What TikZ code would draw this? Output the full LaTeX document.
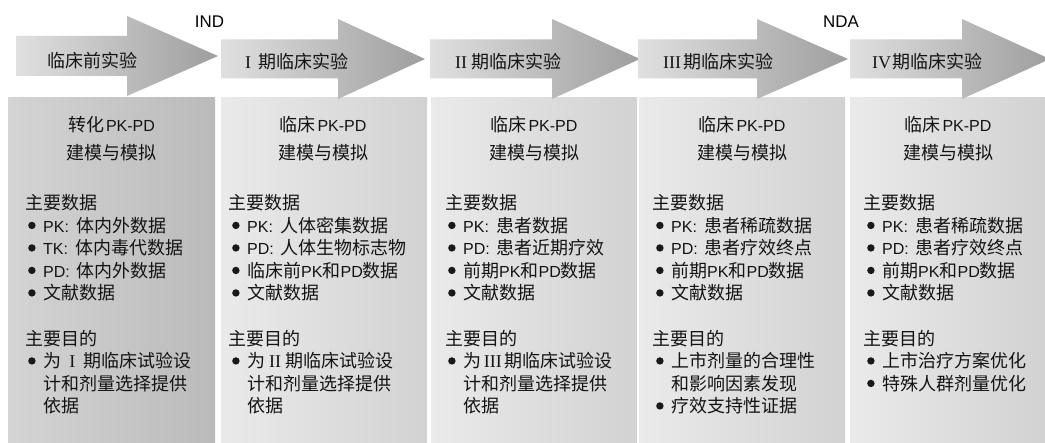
\documentclass[tikz,border=0pt]{standalone}
\usepackage{fontspec}
\setmainfont{Noto Sans CJK SC}
\newfontfamily\lat{Liberation Sans}[Scale=0.89]
\newfontfamily\ser{Liberation Serif}
\definecolor{arL}{RGB}{224,224,224}
\definecolor{arR}{RGB}{158,158,158}
\definecolor{bxoneL}{RGB}{212,212,212}
\definecolor{bxoneR}{RGB}{186,186,186}
\definecolor{bxL}{RGB}{234,234,234}
\definecolor{bxR}{RGB}{210,210,210}
\newcommand\rn[2]{\makebox[#1][c]{\ser #2}}
\newcommand\bu{\makebox[15pt][l]{\raisebox{3.2pt}{\tikz\fill[black!90] (0pt,0pt) circle[radius=3.7pt];}}}
\newcommand\sep{\hspace{7pt}}
\begin{document}
\begin{tikzpicture}[x=1pt,y=-1pt,
  txt/.style={inner sep=0pt, anchor=west, font=\fontsize{18}{22}\selectfont,
              text height=15.84pt, text depth=2.16pt, text=black!92},
  ttl/.style={txt, anchor=center},
  lab/.style={inner sep=0pt, font=\lat\fontsize{19}{20}\selectfont, text=black},
  arrowshade/.style={left color=arL, right color=arR},
  boxone/.style={left color=bxoneL, right color=bxoneR},
  boxrest/.style={left color=bxL, right color=bxR},
]
\useasboundingbox (0,0) rectangle (1045,443);
\fill[white] (0,0) rectangle (1045,443);

% ---------- boxes ----------
\shade[boxone]  (8,98)   rectangle (215,443);
\shade[boxrest] (221,98) rectangle (427,443);
\shade[boxrest] (431,98) rectangle (637,443);
\shade[boxrest] (639,98) rectangle (845,443);
\shade[boxrest] (850,98) rectangle (1045,443);

% ---------- arrows ----------
\shade[arrowshade] (16,36) -- (127,36) -- (127,16) -- (218,56) -- (127,96) -- (127,76) -- (16,76) -- cycle;
\shade[arrowshade] (221,39.5) -- (338,39.5) -- (338,19) -- (425,59) -- (338,99) -- (338,78.5) -- (221,78.5) -- cycle;
\shade[arrowshade] (430,39.5) -- (552,39.5) -- (552,19) -- (640,59) -- (552,99) -- (552,78.5) -- (430,78.5) -- cycle;
\shade[arrowshade] (638,39.5) -- (757,39.5) -- (757,19) -- (848,59) -- (757,99) -- (757,78.5) -- (638,78.5) -- cycle;
\shade[arrowshade] (850,39.5) -- (962,39.5) -- (962,19) -- (1050,59) -- (962,99) -- (962,78.5) -- (850,78.5) -- cycle;

\node[txt] (a1) at (47,61)  {临床前实验};
\node[txt] (a2) at (245,62) {\makebox[0.75em][l]{\ser I}期临床实验};
\node[txt] (a3) at (455,62) {\makebox[0.9em][l]{\ser II}期临床实验};
\node[txt] (a4) at (663,62) {\makebox[1.1em][l]{\ser III}期临床实验};
\node[txt] (a5) at (872,62) {\makebox[1.12em][l]{\ser IV}期临床实验};

\node[lab] (ind) at (209.5,22) {IND};
\node[lab] (nda) at (841,22)   {NDA};

% ---------- box 1 ----------
\node[ttl] (t1a) at (111.5,125) {转化\hspace{2pt}{\lat PK-PD}};
\node[ttl] (t1b) at (111.5,153) {建模与模拟};
\node[txt] (d1)  at (25,203)   {主要数据};
\node[txt] (d1a) at (28,225.5) {\bu{\lat PK:}\sep 体内外数据};
\node[txt] (d1b) at (28,248)   {\bu{\lat TK:}\sep 体内毒代数据};
\node[txt] (d1c) at (28,270.5) {\bu{\lat PD:}\sep 体内外数据};
\node[txt] (d1d) at (28,293)   {\bu 文献数据};
\node[txt] (p1)  at (25,338.5) {主要目的};
\node[txt] (p1a) at (28,361)   {\bu 为\rn{1.25em}{I}期临床试验设};
\node[txt] (p1b) at (43,383.5) {计和剂量选择提供};
\node[txt] (p1c) at (43,406)   {依据};

% ---------- box 2 ----------
\node[ttl] (t2a) at (323,125) {临床\hspace{2pt}{\lat PK-PD}};
\node[ttl] (t2b) at (323,153) {建模与模拟};
\node[txt] (d2)  at (228,203)   {主要数据};
\node[txt] (d2a) at (232,225.5) {\bu{\lat PK:}\sep 人体密集数据};
\node[txt] (d2b) at (232,248)   {\bu{\lat PD:}\sep 人体生物标志物};
\node[txt] (d2c) at (232,270.5) {\bu 临床前{\lat PK}和{\lat PD}数据};
\node[txt] (d2d) at (232,293)   {\bu 文献数据};
\node[txt] (p2)  at (228,338.5) {主要目的};
\node[txt] (p2a) at (232,361)   {\bu 为\rn{1.1em}{II}期临床试验设};
\node[txt] (p2b) at (247,383.5) {计和剂量选择提供};
\node[txt] (p2c) at (247,406)   {依据};

% ---------- box 3 ----------
\node[ttl] (t3a) at (534,125) {临床\hspace{2pt}{\lat PK-PD}};
\node[ttl] (t3b) at (534,153) {建模与模拟};
\node[txt] (d3)  at (445,203)   {主要数据};
\node[txt] (d3a) at (448,225.5) {\bu{\lat PK:}\sep 患者数据};
\node[txt] (d3b) at (448,248)   {\bu{\lat PD:}\sep 患者近期疗效};
\node[txt] (d3c) at (448,270.5) {\bu 前期{\lat PK}和{\lat PD}数据};
\node[txt] (d3d) at (448,293)   {\bu 文献数据};
\node[txt] (p3)  at (445,338.5) {主要目的};
\node[txt] (p3a) at (448,361)   {\bu 为\rn{1.3em}{III}期临床试验设};
\node[txt] (p3b) at (463,383.5) {计和剂量选择提供};
\node[txt] (p3c) at (463,406)   {依据};

% ---------- box 4 ----------
\node[ttl] (t4a) at (742,125) {临床\hspace{2pt}{\lat PK-PD}};
\node[ttl] (t4b) at (742,153) {建模与模拟};
\node[txt] (d4)  at (652,203)   {主要数据};
\node[txt] (d4a) at (656,225.5) {\bu{\lat PK:}\sep 患者稀疏数据};
\node[txt] (d4b) at (656,248)   {\bu{\lat PD:}\sep 患者疗效终点};
\node[txt] (d4c) at (656,270.5) {\bu 前期{\lat PK}和{\lat PD}数据};
\node[txt] (d4d) at (656,293)   {\bu 文献数据};
\node[txt] (p4)  at (652,338.5) {主要目的};
\node[txt] (p4a) at (656,361)   {\bu 上市剂量的合理性};
\node[txt] (p4b) at (671,383.5) {和影响因素发现};
\node[txt] (p4c) at (656,406)   {\bu 疗效支持性证据};

% ---------- box 5 ----------
\node[ttl] (t5a) at (948,125) {临床\hspace{2pt}{\lat PK-PD}};
\node[ttl] (t5b) at (948,153) {建模与模拟};
\node[txt] (d5)  at (863,203)   {主要数据};
\node[txt] (d5a) at (867,225.5) {\bu{\lat PK:}\sep 患者稀疏数据};
\node[txt] (d5b) at (867,248)   {\bu{\lat PD:}\sep 患者疗效终点};
\node[txt] (d5c) at (867,270.5) {\bu 前期{\lat PK}和{\lat PD}数据};
\node[txt] (d5d) at (867,293)   {\bu 文献数据};
\node[txt] (p5)  at (863,338.5) {主要目的};
\node[txt] (p5a) at (867,361)   {\bu 上市治疗方案优化};
\node[txt] (p5b) at (867,383.5) {\bu 特殊人群剂量优化};
\end{tikzpicture}
\end{document}
